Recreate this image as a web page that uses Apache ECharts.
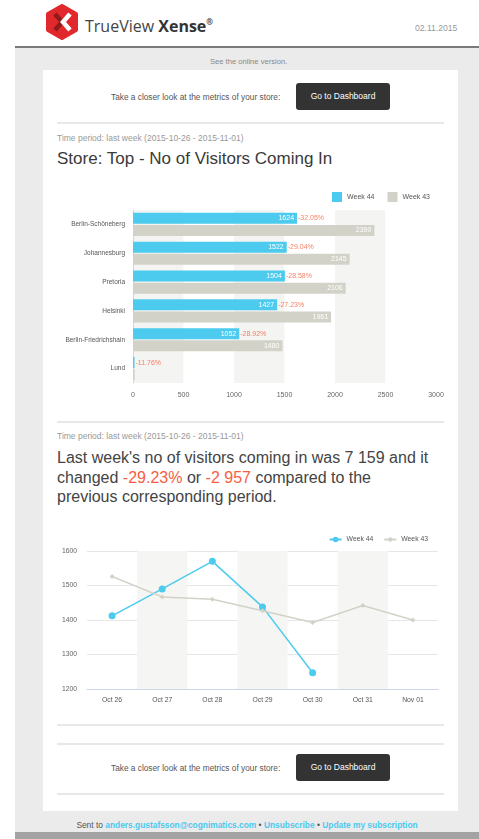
<!DOCTYPE html>
<html>
<head>
<meta charset="utf-8">
<script src="https://cdn.jsdelivr.net/npm/echarts@6/dist/echarts.min.js"></script>
<style>
  html, body { margin: 0; padding: 0; width: 479px; height: 839px; overflow: hidden; background: #fff; font-family: "Liberation Sans", Arial, sans-serif; }
  .abs { position: absolute; white-space: nowrap; }
  #grey { position: absolute; left: 15px; top: 46px; width: 464px; height: 793px; background: #ebebeb; border-top: 2px solid #7a7a7a; box-sizing: border-box; }
  #strip { position: absolute; left: 15px; top: 832px; width: 464px; height: 7px; background: #a3a3a3; }
  #card { position: absolute; left: 43px; top: 70px; width: 415px; height: 741px; background: #fff; }
  .hr { position: absolute; left: 57px; width: 387px; height: 2px; background: #e8e8e8; }
  .cta { font-size: 8.3px; color: #555; line-height: 10px; }
  .btn { position: absolute; left: 296px; width: 94px; height: 27px; background: #333; border-radius: 3px; color: #fff; font-size: 8.5px; line-height: 27px; text-align: center; }
  .period { font-size: 8.5px; color: #999; line-height: 10px; }
  .red { color: #f7603f; }
  .blue { color: #4cc9ee; font-weight: bold; }
</style>
</head>
<body>
<div id="grey"></div>
<div id="strip"></div>

<svg class="abs" style="left:45px;top:4px" width="34" height="36" viewBox="0 0 34 36">
  <polygon points="17,2 31,10 31,26 17,34 3,26 3,10" fill="#e1282c" stroke="#e1282c" stroke-width="4" stroke-linejoin="round"/>
  <polyline points="10,10 17,18 10,26" fill="none" stroke="#8e1a1c" stroke-width="4.5"/>
  <polyline points="25,10 18,18 25,26" fill="none" stroke="#fff" stroke-width="4.5"/>
</svg>
<div class="abs" style="left:85px;top:12px;font-family:'Open Sans',sans-serif;font-size:16px;line-height:20px;color:#444;">TrueView <b style="color:#333">Xense</b><sup style="font-size:8px;vertical-align:7px;font-weight:bold;color:#333">®</sup></div>
<div class="abs" style="left:415px;top:23px;font-size:8.6px;line-height:10px;color:#999;">02.11.2015</div>
<div class="abs" style="left:210px;top:57px;font-size:7.6px;line-height:10px;color:#888;">See the online version.</div>

<div id="card"></div>
<div class="abs cta" style="left:111px;top:92px;">Take a closer look at the metrics of your store:</div>
<div class="btn" style="top:83px;">Go to Dashboard</div>
<div class="hr" style="top:122px;"></div>
<div class="abs period" style="left:57px;top:133px;">Time period: last week (2015-10-26 - 2015-11-01)</div>
<div class="abs" style="left:57px;top:148px;font-size:17px;line-height:22px;color:#3a3a3a;">Store: Top - No of Visitors Coming In</div>

<div id="barChart" class="abs" style="left:43px;top:175px;width:415px;height:235px;"></div>

<div class="hr" style="top:421px;"></div>
<div class="abs period" style="left:57px;top:431px;">Time period: last week (2015-10-26 - 2015-11-01)</div>
<div class="abs" style="left:57px;top:448px;font-size:16px;line-height:19.5px;color:#444;">Last week's no of visitors coming in was 7 159 and it<br>changed <span class="red">-29.23%</span> or <span class="red">-2 957</span> compared to the<br>previous corresponding period.</div>

<div id="lineChart" class="abs" style="left:43px;top:520px;width:415px;height:200px;"></div>

<div class="hr" style="top:724px;"></div>
<div class="hr" style="top:743px;"></div>
<div class="abs cta" style="left:111px;top:763px;">Take a closer look at the metrics of your store:</div>
<div class="btn" style="top:754px;">Go to Dashboard</div>
<div class="hr" style="top:793px;"></div>

<div class="abs" style="left:15px;width:464px;top:820px;text-align:center;font-size:8.4px;line-height:11px;color:#555;">Sent to <span class="blue">anders.gustafsson@cognimatics.com</span> &bull; <span class="blue">Unsubscribe</span> &bull; <span class="blue">Update my subscription</span></div>

<script>
// bar chart: visitors per store
const stores = ["Berlin-Schöneberg", "Johannesburg", "Pretoria", "Helsinki", "Berlin-Friedrichshain", "Lund"];
const week44Stores = [1624, 1522, 1504, 1427, 1052, 15];
const week43Stores = [2390, 2145, 2106, 1961, 1480, 17];
const changeLabels = ["-32.05%", "-29.04%", "-28.58%", "-27.23%", "-28.92%", "-11.76%"];
const barTicks = [0, 500, 1000, 1500, 2000, 2500, 3000];

// line chart: visitors per day
const days = ["Oct 26", "Oct 27", "Oct 28", "Oct 29", "Oct 30", "Oct 31", "Nov 01"];
const week44Days = [1412, 1490, 1570, 1438, 1247];
const week43Days = [1526, 1467, 1460, 1427, 1393, 1442, 1400];
const lineTicks = [1200, 1300, 1400, 1500, 1600];

const BLUE = "#4ccbee";
const GREY = "#d3d2c8";
const RED = "#f7603f";
const FONT = "'Liberation Sans Narrow', 'Liberation Sans', Arial, sans-serif";
const plain = (v) => String(v);

const barChart = echarts.init(document.getElementById("barChart"));
barChart.setOption({
  animation: false,
  textStyle: { fontFamily: FONT },
  legend: {
    data: ["Week 44", "Week 43"],
    right: 23,
    top: 12,
    icon: "rect",
    itemWidth: 10,
    itemHeight: 10,
    itemGap: 13,
    textStyle: { fontSize: 7, color: "#555" },
  },
  grid: { left: 90, right: 22, top: 35, bottom: 27 },
  xAxis: {
    type: "value",
    min: barTicks[0],
    max: barTicks[barTicks.length - 1],
    interval: 500,
    axisLine: { show: false },
    axisTick: { show: false },
    splitLine: { show: false },
    splitArea: { show: true, areaStyle: { color: ["#f4f4f2", "#ffffff"] } },
    axisLabel: { fontSize: 7, color: "#666", margin: 9, formatter: plain },
  },
  yAxis: {
    type: "category",
    data: stores,
    inverse: true,
    axisLine: { lineStyle: { color: "#ccd6eb" } },
    axisTick: { lineStyle: { color: "#ccd6eb" }, length: 6 },
    axisLabel: { fontSize: 6.5, color: "#555", margin: 8 },
  },
  series: [
    {
      name: "Week 44",
      type: "bar",
      data: week44Stores,
      barWidth: 11,
      barGap: "10%",
      itemStyle: { color: BLUE },
      label: {
        show: true,
        position: "insideRight",
        distance: 3,
        color: "#fff",
        fontSize: 7,
        formatter: (p) => (p.value >= 100 ? p.value : ""),
      },
    },
    {
      name: "Week 43",
      type: "bar",
      data: week43Stores,
      barWidth: 11,
      barGap: "10%",
      itemStyle: { color: GREY },
      label: {
        show: true,
        position: "insideRight",
        distance: 3,
        color: "#fff",
        fontSize: 7,
        formatter: (p) => (p.value >= 100 ? p.value : ""),
      },
    },
    {
      // change labels next to the week 44 bars
      name: "change",
      type: "scatter",
      data: week44Stores.map((v, i) => [v, stores[i]]),
      symbolSize: 0,
      silent: true,
      label: {
        show: true,
        position: "right",
        distance: 1,
        offset: [0, -6],
        color: RED,
        fontSize: 7,
        formatter: (p) => changeLabels[p.dataIndex],
      },
    },
  ],
});

const lineChart = echarts.init(document.getElementById("lineChart"));
lineChart.setOption({
  animation: false,
  textStyle: { fontFamily: FONT },
  legend: {
    data: ["Week 44", "Week 43"],
    right: 25,
    top: 11,
    itemWidth: 12,
    itemHeight: 7,
    itemGap: 10,
    textStyle: { fontSize: 6.8, color: "#555" },
  },
  grid: { left: 44, right: 20, top: 31, bottom: 31 },
  xAxis: {
    type: "category",
    data: days,
    axisLine: { lineStyle: { color: "#ccd6eb" } },
    axisTick: { lineStyle: { color: "#ccd6eb" }, length: 5 },
    axisLabel: { fontSize: 6.8, color: "#555", margin: 8 },
    splitArea: { show: true, areaStyle: { color: ["rgba(255,255,255,0)", "#f5f5f3"] } },
  },
  yAxis: {
    type: "value",
    min: lineTicks[0],
    max: lineTicks[lineTicks.length - 1],
    interval: 100,
    axisLine: { show: false },
    axisTick: { show: false },
    axisLabel: { fontSize: 6.8, color: "#666", margin: 10, formatter: plain },
    splitLine: { lineStyle: { color: "#e6e6e6" } },
  },
  series: [
    {
      name: "Week 44",
      type: "line",
      data: week44Days,
      symbol: "circle",
      symbolSize: 7,
      lineStyle: { width: 1.5, color: BLUE },
      itemStyle: { color: BLUE },
    },
    {
      name: "Week 43",
      type: "line",
      data: week43Days,
      symbol: "diamond",
      symbolSize: 5,
      lineStyle: { width: 1.5, color: GREY },
      itemStyle: { color: GREY },
    },
  ],
});
</script>
</body>
</html>
